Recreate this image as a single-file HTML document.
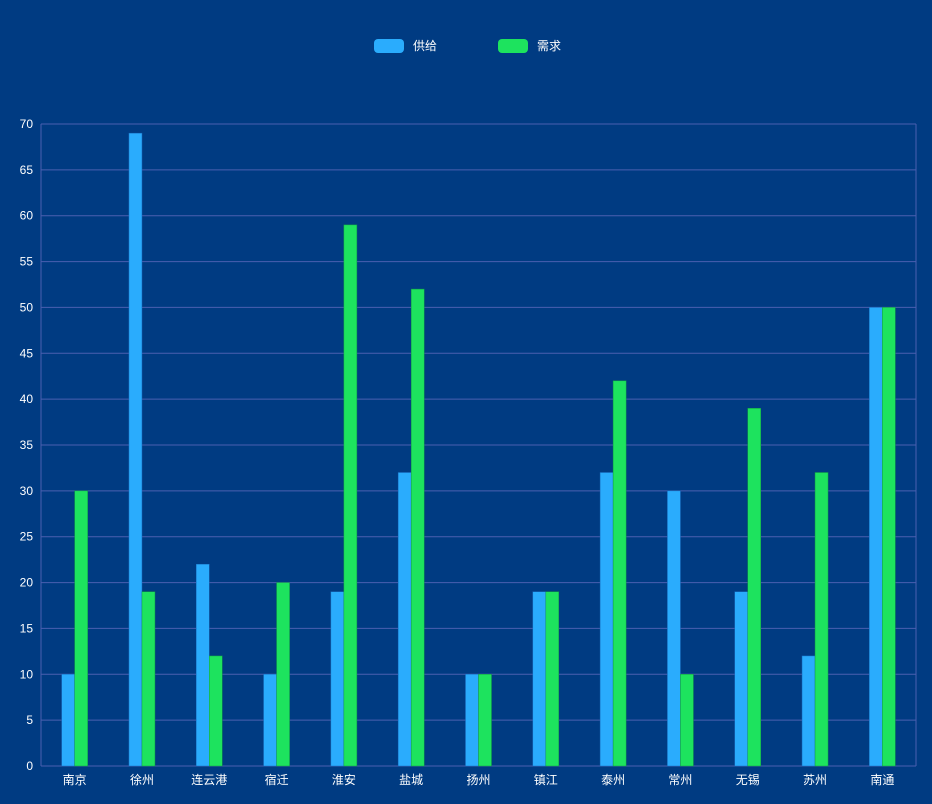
<!DOCTYPE html>
<html><head><meta charset="utf-8">
<style>
html,body{margin:0;padding:0;background:#003b82;}
svg{display:block;font-family:"Liberation Sans","Noto Sans CJK SC",sans-serif;}
</style></head>
<body>
<svg id="chart" width="932" height="804">
  <rect x="0" y="0" width="932" height="804" fill="#003b82"/>
  <g>
    <g>
      <rect x="374" y="39" width="30" height="14" rx="4" fill="#2aacfd"/>
      <text x="413" y="50" fill="#fff" font-size="12">供给</text>
    </g>
    <g>
      <rect x="498" y="39" width="30" height="14" rx="4" fill="#1de35e"/>
      <text x="537" y="50" fill="#fff" font-size="12">需求</text>
    </g>
  </g>
  <g id="grid"></g>
  <g id="bars"></g>
  <g id="labels"></g>
</svg>
<script>
const categories = ["南京","徐州","连云港","宿迁","淮安","盐城","扬州","镇江","泰州","常州","无锡","苏州","南通"];
const supply = [10,69,22,10,19,32,10,19,32,30,19,12,50];
const demand = [30,19,12,20,59,52,10,19,42,10,39,32,50];
const yTicks = [0,5,10,15,20,25,30,35,40,45,50,55,60,65,70];

const NS = "http://www.w3.org/2000/svg";
const L = 41, R = 916, T = 124, B = 766, YMAX = 70;
const y = v => B - (v / YMAX) * (B - T);
const band = (R - L) / categories.length;
const xc = i => L + band * i + band / 2;
const barW = 13;

function mk(tag, attrs, parent) {
  const e = document.createElementNS(NS, tag);
  for (const k in attrs) e.setAttribute(k, attrs[k]);
  parent.appendChild(e);
  return e;
}
const grid = document.getElementById('grid');
const bars = document.getElementById('bars');
const labels = document.getElementById('labels');

yTicks.forEach(t => {
  const ln = mk('line', {x1: L, x2: R, y1: y(t), y2: y(t), stroke: '#4a5fb0', 'stroke-width': 1}, grid);
  
  
  const tx = mk('text', {x: 33, y: y(t) + 4, fill: '#fff', 'font-size': 12, 'text-anchor': 'end'}, labels);
  tx.textContent = t;
  
  
});
const vl = mk('line', {x1: L, x2: L, y1: T, y2: B, stroke: '#4a5fb0'}, grid);


const vr = mk('line', {x1: R, x2: R, y1: T, y2: B, stroke: '#4a5fb0'}, grid);



categories.forEach((c, i) => {
  const cx = xc(i);
  const b1 = mk('rect', {x: cx - barW, y: y(supply[i]), width: barW, height: B - y(supply[i]), fill: '#2aacfd', stroke: '#1a6fc0', 'stroke-width': 0.5}, bars);
  
  
  const b2 = mk('rect', {x: cx, y: y(demand[i]), width: barW, height: B - y(demand[i]), fill: '#1de35e', stroke: '#139a45', 'stroke-width': 0.5}, bars);
  
  
  const tx = mk('text', {x: cx, y: 784, fill: '#fff', 'font-size': 12, 'text-anchor': 'middle'}, labels);
  tx.textContent = c;
  
  
});
</script>
</body></html>
